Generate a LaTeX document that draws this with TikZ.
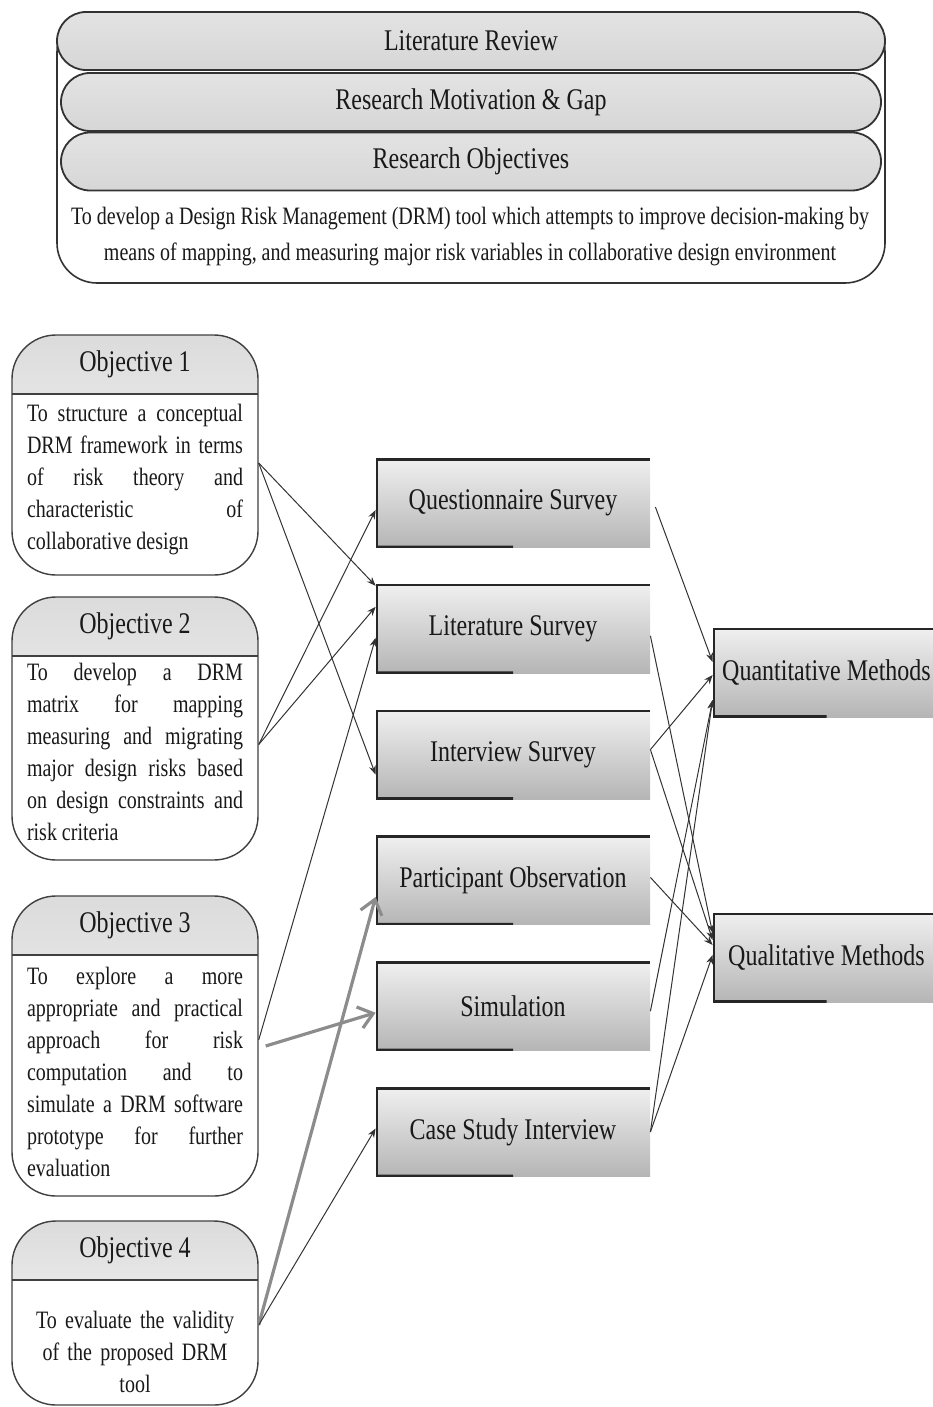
\documentclass[tikz,border=0pt]{standalone}
\usepackage{fontspec}
\setmainfont[FakeStretch=0.8]{Liberation Serif}
\usetikzlibrary{arrows.meta, positioning, calc}

\begin{document}
\begin{tikzpicture}[x=0.5pt, y=-0.5pt,
    every node/.style={text=black!90},
    band/.style={draw=black!80, line width=0.9pt, rounded corners=14.5pt,
        minimum width=#1, minimum height=29pt,
        top color=gray!22, middle color=gray!5, bottom color=gray!32,
        font=\fontsize{15}{18}\selectfont},
    objbox/.style={draw=black!75, line width=0.7pt, rounded corners=22pt, fill=white,
        minimum width=123pt, minimum height=#1,
        path picture={\shade[sharp corners, top color=gray!28, bottom color=white]
            (path picture bounding box.north west) rectangle ([yshift=-29.5pt]path picture bounding box.north east);
          \draw[sharp corners, black!75, line width=1pt] ([yshift=-29.5pt]path picture bounding box.north west)
            -- ([yshift=-29.5pt]path picture bounding box.north east);}},
    objhead/.style={font=\fontsize{15}{18}\selectfont},
    objtext/.style={font=\fontsize{12.5}{16}\selectfont, text width=108pt, align=justify,
        inner sep=0pt, anchor=north},
    method/.style={minimum width=137pt, minimum height=44.5pt,
        top color=gray!12, bottom color=gray!58, font=\fontsize{15}{18}\selectfont,
        path picture={\draw[black!85, line width=2pt] (path picture bounding box.south west)
            -- (path picture bounding box.north west) -- (path picture bounding box.north east);
          \draw[black!85, line width=2pt] (path picture bounding box.south west)
            -- ($(path picture bounding box.south west)!0.5!(path picture bounding box.south east)$);}},
    link/.style={black!80, line width=0.5pt, -{Stealth[length=4.5pt, width=3.5pt]}},
    biglink/.style={gray!90, line width=1.6pt, -{Straight Barb[length=7pt, width=11pt]}}
    ]
\useasboundingbox (0,0) rectangle (932,1407);

% research frame
\node[draw=black!80, line width=0.8pt, fill=white, rounded corners=20pt,
    minimum width=414pt, minimum height=135.5pt] (frame) at (471,147.5) {};
\node[band=414pt] (review) at (471,41) {Literature Review};
\node[band=410pt] (gap) at (471,102) {Research Motivation \& Gap};
\node[band=410pt] (aims) at (471,161.5) {Research Objectives};
\node[font=\fontsize{12.5}{18}\selectfont, align=center] (aim) at (470,237)
    {To develop a Design Risk Management (DRM) tool which attempts to improve decision-making by\\
     means of mapping, and measuring major risk variables in collaborative design environment};

% objectives
\node[objbox=120pt] (obj1) at (135,455) {};
\node[objbox=131.5pt] (obj2) at (135,728.5) {};
\node[objbox=150pt] (obj3) at (135,1046) {};
\node[objbox=92pt] (obj4) at (135,1313) {};

\node[objhead] (head1) at ([yshift=-14.75pt]obj1.north) {Objective 1};
\node[objhead] (head2) at ([yshift=-14.75pt]obj2.north) {Objective 2};
\node[objhead] (head3) at ([yshift=-14.75pt]obj3.north) {Objective 3};
\node[objhead] (head4) at ([yshift=-14.75pt]obj4.north) {Objective 4};

\node[objtext] (text1) at ([yshift=-34.5pt]obj1.north)
    {To structure a conceptual\linebreak DRM framework in terms\linebreak of risk theory and\linebreak
     characteristic of\linebreak collaborative design};
\node[objtext] (text2) at ([yshift=-33pt]obj2.north)
    {To develop a DRM\linebreak matrix for mapping\linebreak measuring and migrating\linebreak
     major design risks based\linebreak on design constraints and\linebreak risk criteria};
\node[objtext] (text3) at ([yshift=-35.5pt]obj3.north)
    {To explore a more\linebreak appropriate and practical\linebreak approach for risk\linebreak
     computation and to\linebreak simulate a DRM software\linebreak prototype for further\linebreak evaluation};
\node[objtext, anchor=center, align=center] (text4) at (135,1352)
    {To evaluate the validity\\ of the proposed DRM\\ tool};

% methods
\node[method] (qs) at (513,503) {Questionnaire Survey};
\node[method, below=18pt of qs] (ls) {Literature Survey};
\node[method, below=18pt of ls] (is) {Interview Survey};
\node[method, below=18pt of is] (po) {Participant Observation};
\node[method, below=18pt of po] (sim) {Simulation};
\node[method, below=18pt of sim] (cs) {Case Study Interview};

\node[method, minimum width=113.5pt] (quant) at (826.5,672.5) {Quantitative Methods};
\node[method, minimum width=113.5pt] (qual) at (826.5,957.5) {Qualitative Methods};

% objectives to methods
\draw[link] ([yshift=-4pt]obj1.east) -- ([yshift=21.5pt]ls.west);
\draw[link] ([yshift=-4pt]obj1.east) -- ([yshift=-10pt]is.west);
\draw[link] ([yshift=-8pt]obj2.east) -- ([yshift=-3.5pt]qs.west);
\draw[link] ([yshift=-8pt]obj2.east) -- ([yshift=11pt]ls.west);
\draw[link] ([yshift=3pt]obj3.east) -- ([yshift=-4.5pt]ls.west);
\draw[biglink] ([xshift=3.5pt]obj3.east) -- ([yshift=-3.25pt]sim.west);
\draw[biglink] ([yshift=-6pt]obj4.east) -- ([yshift=-8.25pt]po.west);
\draw[link] ([yshift=-6pt]obj4.east) -- ([yshift=1.75pt]cs.west);

% methods to approaches
\draw[link] ([xshift=2.5pt,yshift=-2pt]qs.east) -- ([yshift=5.25pt]quant.west);
\draw[link] ([yshift=-3.5pt]ls.east) -- ([yshift=12.25pt]qual.west);
\draw[link] ([yshift=2.5pt]is.east) -- ([yshift=-1.25pt]quant.west);
\draw[link] ([yshift=2.5pt]is.east) -- ([yshift=8.75pt]qual.west);
\draw[link] ([yshift=1.5pt]po.east) -- ([yshift=6.25pt]qual.west);
\draw[link] ([yshift=-2.5pt]sim.east) -- ([yshift=-13.75pt]quant.west);
\draw[link] (cs.east) -- ([yshift=-13.75pt]quant.west);
\draw[link] (cs.east) -- ([yshift=1.25pt]qual.west);
\end{tikzpicture}
\end{document}
